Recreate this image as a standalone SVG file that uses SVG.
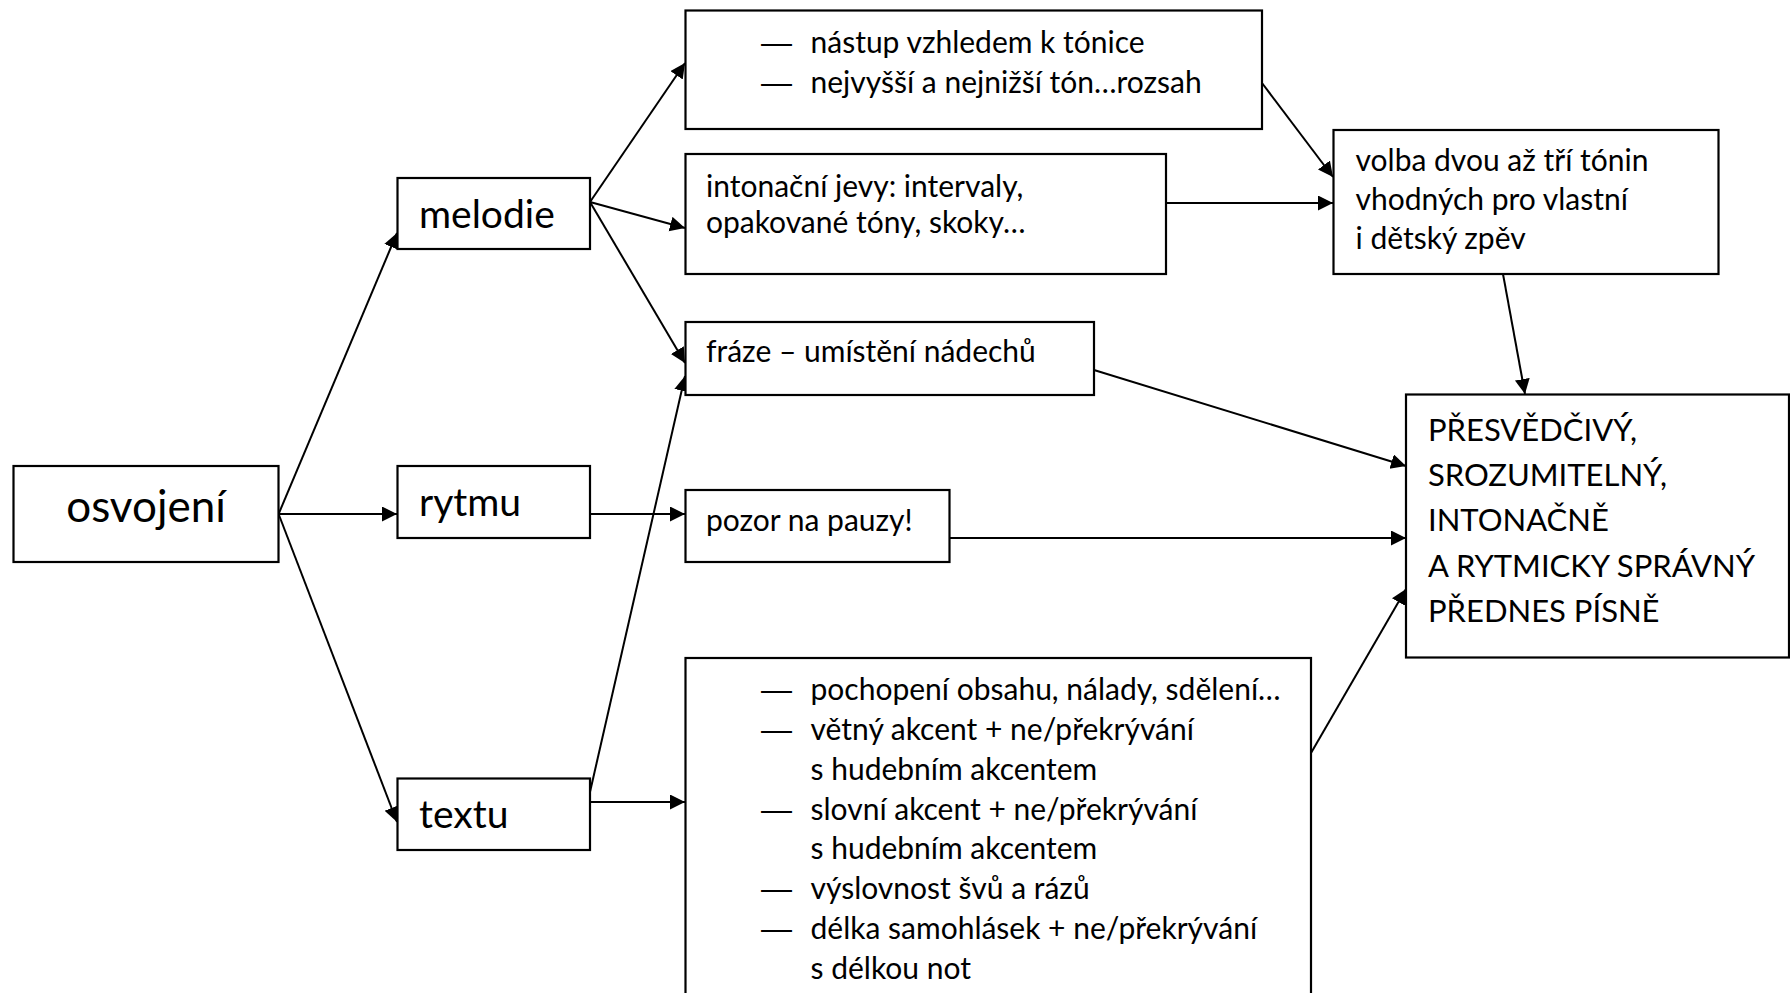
<svg xmlns="http://www.w3.org/2000/svg" width="1790" height="993" viewBox="0 0 1790 993">
<style>
.box{fill:#fff;stroke:#000;stroke-width:2.2}
.t{font-family:Lato,"Liberation Sans",sans-serif;fill:#000;font-size:30px}
.d{font-family:"Liberation Sans",sans-serif;fill:#000;font-size:31px}
.lbl{font-size:39px}
.main{font-size:44px}
.big{font-size:31px}
.c{fill:none;stroke:#000;stroke-width:2;marker-end:url(#ah)}
</style>
<defs>
<marker id="ah" markerUnits="userSpaceOnUse" markerWidth="17" markerHeight="17" refX="15" refY="7.5" orient="auto">
<path d="M0,0 L15,7.5 L0,15 z" fill="#000"/>
</marker>
</defs>
<rect width="1790" height="993" fill="#fff"/>
<g id="connectors">
<path class="c" d="M278.6,514 L397,233"/>
<path class="c" d="M278.6,514 L397,514"/>
<path class="c" d="M278.6,514 L397,822"/>
<path class="c" d="M590,202 L685,63"/>
<path class="c" d="M590,202 L685,228"/>
<path class="c" d="M590,202 L685,363"/>
<path class="c" d="M590,792 L685,376"/>
<path class="c" d="M590,802 L685,802"/>
<path class="c" d="M590,514 L685,514"/>
<path class="c" d="M1262,83 L1333,177"/>
<path class="c" d="M1166,203 L1333,203"/>
<path class="c" d="M1503,274 L1525,394"/>
<path class="c" d="M1094,370 L1406,466"/>
<path class="c" d="M950,538 L1406,538"/>
<path class="c" d="M1311,753 L1406,589"/>
</g>
<g id="osvojeni">
<rect class="box" x="13.5" y="466" width="265" height="96"/>
<text class="t main" x="146" y="522" text-anchor="middle">osvojení</text>
</g>
<g id="melodie">
<rect class="box" x="397.5" y="178" width="192.5" height="71"/>
<text class="t lbl" x="419" y="228">melodie</text>
</g>
<g id="rytmu">
<rect class="box" x="397.5" y="466" width="192.5" height="72"/>
<text class="t lbl" x="419" y="516">rytmu</text>
</g>
<g id="textu">
<rect class="box" x="397.5" y="778.5" width="192.5" height="71.5"/>
<text class="t lbl" x="419" y="828">textu</text>
</g>
<g id="nastup">
<rect class="box" x="685.5" y="10.5" width="576.5" height="118.5"/>
<text class="d" x="761" y="53">—</text>
<text class="t" x="810.5" y="53">nástup vzhledem k tónice</text>
<text class="d" x="761" y="93">—</text>
<text class="t" x="810.5" y="93">nejvyšší a nejnižší tón…rozsah</text>
</g>
<g id="intonacni">
<rect class="box" x="685.5" y="154" width="480.5" height="120"/>
<text class="t" x="706" y="197">intonační jevy: intervaly,</text>
<text class="t" x="706" y="233">opakované tóny, skoky…</text>
</g>
<g id="fraze">
<rect class="box" x="685.5" y="322" width="408.5" height="73"/>
<text class="t" x="706" y="362">fráze – umístění nádechů</text>
</g>
<g id="pozor">
<rect class="box" x="685.5" y="490" width="264" height="72"/>
<text class="t" x="706" y="531">pozor na pauzy!</text>
</g>
<g id="textlist">
<rect class="box" x="685.5" y="658" width="625.5" height="345"/>
<text class="d" x="761" y="700">—</text>
<text class="t" x="810.5" y="700">pochopení obsahu, nálady, sdělení…</text>
<text class="d" x="761" y="740">—</text>
<text class="t" x="810.5" y="740">větný akcent + ne/překrývání</text>
<text class="t" x="810.5" y="780">s hudebním akcentem</text>
<text class="d" x="761" y="820">—</text>
<text class="t" x="810.5" y="820">slovní akcent + ne/překrývání</text>
<text class="t" x="810.5" y="859">s hudebním akcentem</text>
<text class="d" x="761" y="899">—</text>
<text class="t" x="810.5" y="899">výslovnost švů a rázů</text>
<text class="d" x="761" y="939">—</text>
<text class="t" x="810.5" y="939">délka samohlásek + ne/překrývání</text>
<text class="t" x="810.5" y="979">s délkou not</text>
</g>
<g id="volba">
<rect class="box" x="1333.5" y="130" width="385" height="144"/>
<text class="t" x="1355.5" y="171">volba dvou až tří tónin</text>
<text class="t" x="1355.5" y="210">vhodných pro vlastní</text>
<text class="t" x="1355.5" y="249">i dětský zpěv</text>
</g>
<g id="presvedcivy">
<rect class="box" x="1406" y="394.5" width="383" height="263"/>
<text class="t big" x="1428" y="441">PŘESVĚDČIVÝ,</text>
<text class="t big" x="1428" y="486">SROZUMITELNÝ,</text>
<text class="t big" x="1428" y="531">INTONAČNĚ</text>
<text class="t big" x="1428" y="577">A RYTMICKY SPRÁVNÝ</text>
<text class="t big" x="1428" y="622">PŘEDNES PÍSNĚ</text>
</g>
</svg>
